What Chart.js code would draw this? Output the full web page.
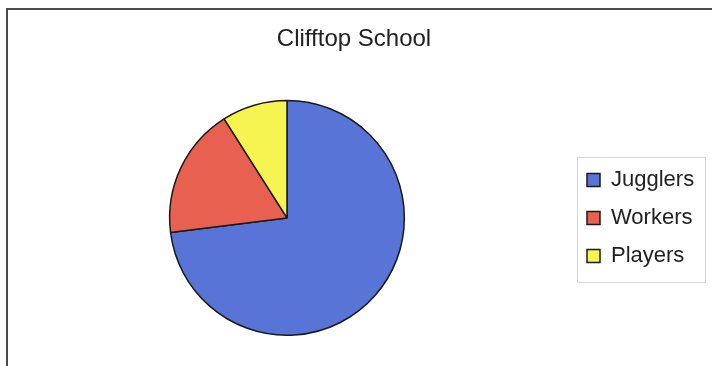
<!DOCTYPE html>
<html>
<head>
<meta charset="utf-8">
<script src="https://cdn.jsdelivr.net/npm/chart.js@4.4.0/dist/chart.umd.min.js"></script>
<style>
  html, body { margin: 0; padding: 0; background: #fff; }
  #wrap { width: 712px; height: 366px; }
</style>
</head>
<body>
<div id="wrap"><canvas id="myChart" width="712" height="366"></canvas></div>
<script>
// data
const groups = ['Jugglers', 'Workers', 'Players'];
const shares = [73, 18, 9];
const sliceColours = ['#5874d6', '#e8604f', '#f6f451'];

// outer frame (only top and left edges are visible in the picture)
const framePlugin = {
  id: 'frame',
  beforeDraw(chart) {
    const ctx = chart.ctx;
    ctx.save();
    ctx.fillStyle = '#fff';
    ctx.fillRect(0, 0, chart.width, chart.height);
    ctx.strokeStyle = '#4a4a4a';
    ctx.lineWidth = 2;
    ctx.strokeRect(7, 9, chart.width + 20, chart.height + 20);
    ctx.restore();
  }
};

// fixed legend width + a box drawn round the legend items
const legendBox = {
  id: 'legendBox',
  beforeInit(chart) {
    const orig = chart.legend.fit;
    chart.legend.fit = function () {
      orig.bind(chart.legend)();
      this.width = 134;
    };
  },
  afterDraw(chart) {
    const lg = chart.legend;
    const boxes = lg.legendHitBoxes;
    if (!boxes || !boxes.length) return;
    const ctx = chart.ctx;
    const last = boxes[boxes.length - 1];
    const top = boxes[0].top - 12;
    const bottom = last.top + last.height + 15;
    const left = boxes[0].left - 10;
    ctx.save();
    ctx.strokeStyle = '#d6d6d6';
    ctx.lineWidth = 1;
    ctx.strokeRect(left + 0.5, top + 0.5, lg.right - left, bottom - top);
    ctx.restore();
  }
};

const ctx = document.getElementById('myChart').getContext('2d');
const chart = new Chart(ctx, {
  type: 'pie',
  data: {
    labels: groups,
    datasets: [{
      data: shares,
      backgroundColor: sliceColours,
      borderColor: '#1a1a1a',
      borderWidth: 1.5
    }]
  },
  options: {
    responsive: false,
    animation: false,
    layout: { padding: { left: 3, right: 7, top: 0, bottom: 30 } },
    plugins: {
      title: {
        display: true,
        text: 'Clifftop School',
        color: '#222',
        font: { family: "'Liberation Sans', Arial, sans-serif", size: 24, weight: 'normal' },
        padding: { top: 25, bottom: 46 }
      },
      legend: {
        position: 'right',
        fullSize: false,
        labels: {
          color: '#222',
          font: { family: "'Liberation Sans', Arial, sans-serif", size: 22 },
          boxWidth: 13,
          boxHeight: 13,
          padding: 16
        }
      },
      tooltip: { enabled: false }
    }
  },
  plugins: [framePlugin, legendBox]
});
</script>
</body>
</html>
